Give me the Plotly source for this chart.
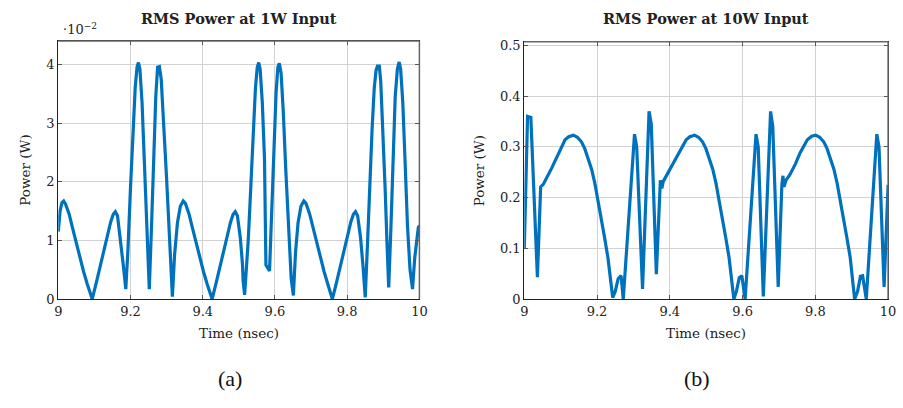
import plotly.graph_objects as go

# ---------------- data ----------------
# (a) RMS power at 1 W input, in units of 1e-2 W
time_1w = [
    9.000, 9.005, 9.010, 9.015, 9.020, 9.030, 9.040, 9.050, 9.060, 9.070, 9.080, 9.094,
    9.105, 9.115, 9.125, 9.135, 9.145, 9.152, 9.158, 9.164, 9.172, 9.180, 9.187,
    9.193, 9.200, 9.207, 9.213, 9.218, 9.222, 9.226, 9.232, 9.238, 9.245, 9.252,
    9.258, 9.264, 9.270, 9.275, 9.280, 9.285, 9.292, 9.300, 9.308, 9.316,
    9.322, 9.330, 9.338, 9.346, 9.352, 9.362, 9.372, 9.382, 9.392, 9.402, 9.412, 9.426,
    9.437, 9.447, 9.457, 9.467, 9.477, 9.484, 9.490, 9.496, 9.504, 9.510, 9.512, 9.516,
    9.526, 9.533, 9.540, 9.546, 9.551, 9.555, 9.559, 9.565, 9.571, 9.575, 9.585,
    9.591, 9.597, 9.603, 9.608, 9.612, 9.617, 9.623, 9.630, 9.638, 9.645, 9.651,
    9.657, 9.664, 9.672, 9.680, 9.686, 9.696, 9.706, 9.716, 9.726, 9.736, 9.746, 9.759,
    9.770, 9.780, 9.790, 9.800, 9.810, 9.817, 9.823, 9.829, 9.837, 9.844, 9.850,
    9.856, 9.862, 9.869, 9.875, 9.880, 9.884, 9.889, 9.893, 9.899, 9.905, 9.910, 9.915,
    9.921, 9.927, 9.933, 9.939, 9.944, 9.948, 9.954, 9.960, 9.967, 9.974, 9.981,
    9.987, 9.993, 9.997, 10.000,
]
power_1w = [
    1.15, 1.50, 1.64, 1.67, 1.62, 1.45, 1.20, 0.95, 0.70, 0.47, 0.26, 0.00,
    0.27, 0.53, 0.80, 1.06, 1.31, 1.44, 1.49, 1.42, 1.05, 0.58, 0.17,
    0.85, 1.90, 2.90, 3.60, 3.95, 4.03, 3.92, 3.35, 2.40, 1.25, 0.17,
    1.20, 2.40, 3.45, 3.95, 3.96, 3.75, 3.05, 2.05, 1.05, 0.04,
    0.75, 1.30, 1.58, 1.67, 1.63, 1.45, 1.20, 0.95, 0.70, 0.47, 0.26, 0.00,
    0.27, 0.53, 0.80, 1.06, 1.31, 1.44, 1.49, 1.42, 1.05, 0.60, 0.30, 0.07,
    1.00, 1.90, 2.90, 3.60, 3.95, 4.03, 3.92, 3.35, 2.40, 0.58, 0.48,
    1.60, 2.70, 3.50, 3.95, 4.02, 3.85, 3.20, 2.20, 1.20, 0.35, 0.06,
    0.80, 1.30, 1.58, 1.67, 1.63, 1.45, 1.20, 0.95, 0.70, 0.47, 0.26, 0.00,
    0.27, 0.53, 0.80, 1.06, 1.31, 1.44, 1.49, 1.42, 1.05, 0.55, 0.03,
    0.90, 1.90, 2.90, 3.60, 3.90, 3.97, 3.97, 3.70, 2.90, 1.90, 1.00, 0.20,
    1.20, 2.40, 3.45, 3.92, 4.04, 3.92, 3.35, 2.40, 1.25, 0.50, 0.17,
    0.70, 1.10, 1.22, 1.25,
]

# (b) RMS power at 10 W input, in W
time_10w = [
    9.000, 9.009, 9.018, 9.036, 9.045, 9.052, 9.058, 9.067, 9.076, 9.085, 9.094, 9.103,
    9.112, 9.122, 9.135, 9.146, 9.157, 9.166, 9.175, 9.185, 9.194, 9.203, 9.212,
    9.221, 9.230, 9.243, 9.250, 9.258, 9.266, 9.272, 9.303, 9.309, 9.325,
    9.343, 9.349, 9.363, 9.374, 9.378, 9.382, 9.392, 9.408, 9.425, 9.445, 9.455,
    9.468, 9.479, 9.490, 9.499, 9.508, 9.518, 9.527, 9.536, 9.545, 9.554, 9.563,
    9.576, 9.583, 9.591, 9.598, 9.607, 9.637, 9.643, 9.657,
    9.677, 9.683, 9.698, 9.708, 9.711, 9.714, 9.719, 9.730, 9.745, 9.758, 9.778,
    9.790, 9.801, 9.812, 9.823, 9.832, 9.841, 9.851, 9.860, 9.869, 9.878, 9.887,
    9.896, 9.908, 9.916, 9.924, 9.930, 9.940, 9.969, 9.975, 9.989, 10.000,
]
power_10w = [
    0.100, 0.360, 0.358, 0.043, 0.221, 0.226, 0.234, 0.245, 0.259, 0.273, 0.288, 0.302,
    0.314, 0.320, 0.323, 0.319, 0.310, 0.297, 0.279, 0.256, 0.228, 0.194, 0.157,
    0.120, 0.081, 0.003, 0.015, 0.040, 0.046, 0.000, 0.325, 0.300, 0.020,
    0.370, 0.345, 0.049, 0.234, 0.218, 0.232, 0.245, 0.265, 0.290, 0.314, 0.320,
    0.323, 0.319, 0.310, 0.297, 0.279, 0.256, 0.228, 0.194, 0.157, 0.120, 0.081,
    0.000, 0.015, 0.042, 0.046, 0.000, 0.325, 0.300, 0.005,
    0.370, 0.340, 0.024, 0.225, 0.243, 0.221, 0.234, 0.245, 0.266, 0.288, 0.314,
    0.321, 0.323, 0.319, 0.310, 0.297, 0.279, 0.256, 0.228, 0.194, 0.157, 0.120,
    0.081, 0.000, 0.015, 0.045, 0.046, 0.000, 0.325, 0.300, 0.024, 0.225,
]

x_ticks = [9, 9.2, 9.4, 9.6, 9.8, 10]
x_ticktext = ["9", "9.2", "9.4", "9.6", "9.8", "10"]
y_ticks_1w = [0, 1, 2, 3, 4]
y_ticks_10w = [0, 0.1, 0.2, 0.3, 0.4, 0.5]
y_ticktext_10w = ["0", "0.1", "0.2", "0.3", "0.4", "0.5"]

titles = ["RMS Power at 1W Input", "RMS Power at 10W Input"]
x_label = "Time (nsec)"
y_label = "Power (W)"
sub_labels = ["(a)", "(b)"]

# ---------------- layout helpers ----------------
W, H = 903, 408
BLUE = "#0072BD"
SERIF = "DejaVu Serif"


def px(x):
    return x / W


def py(y):
    return 1 - y / H


fig = go.Figure()
fig.add_trace(go.Scatter(x=time_1w, y=power_1w, mode="lines",
                         line=dict(color=BLUE, width=3.2), xaxis="x", yaxis="y",
                         showlegend=False))
fig.add_trace(go.Scatter(x=time_10w, y=power_10w, mode="lines",
                         line=dict(color=BLUE, width=3.2), xaxis="x2", yaxis="y2",
                         showlegend=False))

axis_common = dict(
    showgrid=True, gridcolor="#d2d2d2", gridwidth=1,
    showline=True, linecolor="#222", linewidth=1.2, mirror="allticks",
    ticks="inside", ticklen=4, tickcolor="#555", tickwidth=1,
    zeroline=False,
    tickfont=dict(family=SERIF, size=13, color="#222"),
)

L = dict(x0=55, x1=421, top=38, bottom=304)
R = dict(x0=527.3, x1=896, top=39, bottom=304)

fig.update_layout(
    width=W, height=H,
    margin=dict(l=0, r=0, t=0, b=0),
    paper_bgcolor="white", plot_bgcolor="white",
    xaxis=dict(domain=[px(L["x0"]), px(L["x1"])], range=[9, 10], anchor="y",
               tickvals=x_ticks, ticktext=x_ticktext, **axis_common),
    yaxis=dict(domain=[py(L["bottom"]), py(L["top"])], range=[0, 4.4], anchor="x",
               tickvals=y_ticks_1w, **axis_common),
    xaxis2=dict(domain=[px(R["x0"]), px(R["x1"])], range=[9, 10], anchor="y2",
                tickvals=x_ticks, ticktext=x_ticktext, **axis_common),
    yaxis2=dict(domain=[py(R["bottom"]), py(R["top"])], range=[0, 0.507], anchor="x2",
                tickvals=y_ticks_10w, ticktext=y_ticktext_10w, **axis_common),
)

ann = []
for i, box in enumerate([L, R]):
    cx = (box["x0"] + box["x1"]) / 2
    cy = (box["top"] + box["bottom"]) / 2
    ann.append(dict(text="<b>" + titles[i] + "</b>", x=px(cx), y=py(15),
                    xref="paper", yref="paper", showarrow=False,
                    xanchor="center", yanchor="middle",
                    font=dict(family=SERIF, size=14.5, color="#222")))
    ann.append(dict(text=x_label, x=px(cx), y=py(339),
                    xref="paper", yref="paper", showarrow=False,
                    xanchor="center", yanchor="middle",
                    font=dict(family=SERIF, size=13.5, color="#222")))
    ann.append(dict(text=y_label, x=px(box["x0"] - 34 if i == 0 else box["x0"] - 45),
                    y=py(cy), xref="paper", yref="paper", showarrow=False,
                    textangle=-90, xanchor="center", yanchor="middle",
                    font=dict(family=SERIF, size=13.5, color="#222")))
    ann.append(dict(text=sub_labels[i], x=px(cx - 9), y=py(386),
                    xref="paper", yref="paper", showarrow=False,
                    xanchor="center", yanchor="middle",
                    font=dict(family="Liberation Serif", size=22, color="#111")))

ann.append(dict(text="·10<sup>−2</sup>", x=px(58), y=py(26),
                xref="paper", yref="paper", showarrow=False,
                xanchor="left", yanchor="middle",
                font=dict(family=SERIF, size=13, color="#222")))

fig.update_layout(annotations=ann)

# gray top / right frame edges like pgfplots
shapes = []
for box in [L, R]:
    shapes.append(dict(type="line", xref="paper", yref="paper",
                       x0=px(box["x0"]), x1=px(box["x1"]), y0=py(box["top"]), y1=py(box["top"]),
                       line=dict(color="#666", width=1.5)))
    shapes.append(dict(type="line", xref="paper", yref="paper",
                       x0=px(box["x1"]), x1=px(box["x1"]), y0=py(box["top"]), y1=py(box["bottom"]),
                       line=dict(color="#666", width=1.5)))
fig.update_layout(shapes=shapes)

fig.write_html("out.html")
